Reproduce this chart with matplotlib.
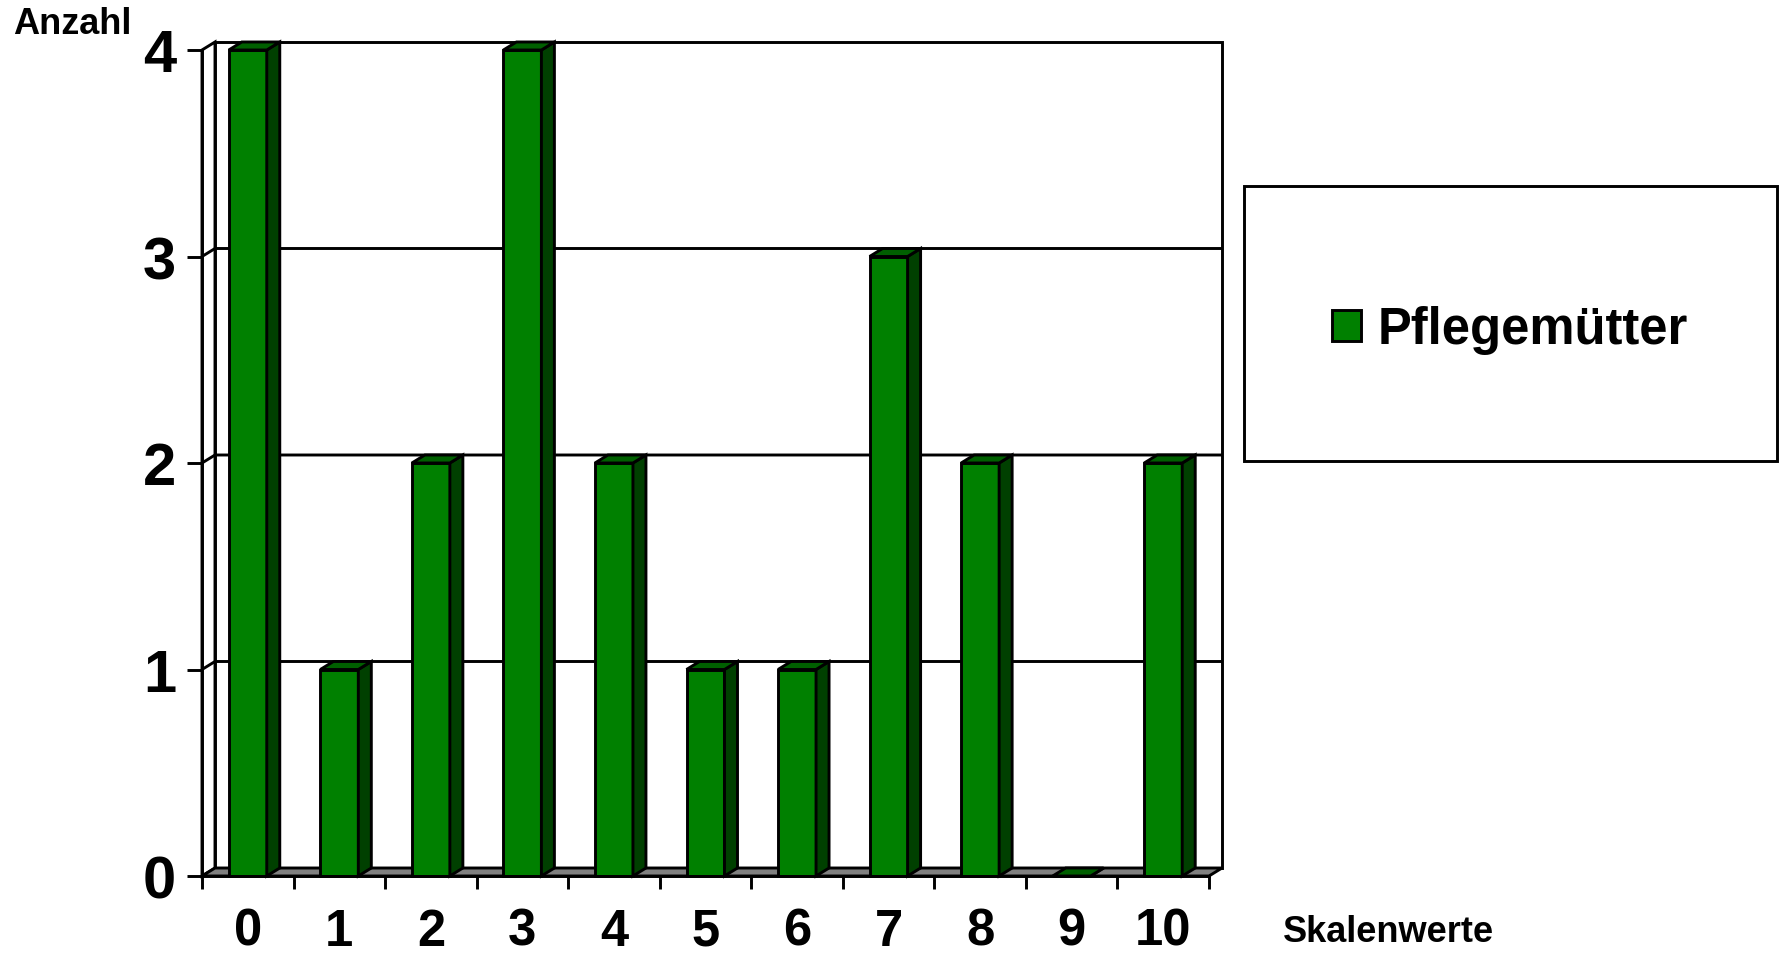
import matplotlib

matplotlib.use("Agg")

import matplotlib.pyplot as plt
from matplotlib.patches import Polygon, Rectangle
import numpy as np

plt.rcParams["font.family"] = ["Liberation Sans", "DejaVu Sans"]
plt.rcParams["font.weight"] = "bold"

categories = ["0", "1", "2", "3", "4", "5", "6", "7", "8", "9", "10"]
counts = [4, 1, 2, 4, 2, 1, 1, 3, 2, 0, 2]
y_ticks = [0, 1, 2, 3, 4]
series_name = "Pflegemütter"
y_title = "Anzahl"
x_title = "Skalenwerte"

FRONT = "#008000"
SIDE = "#004000"
TOP = "#006000"
FLOOR = "#808080"
LW = 2.1

W, H, DPI = 1781, 954, 100
fig = plt.figure(figsize=(W / DPI, H / DPI), dpi=DPI)
ax = fig.add_axes([202 / W, (H - 877) / H, 1007 / W, 826 / H])

n = len(categories)
ymax = max(y_ticks)
ax.set_xlim(0, n)
ax.set_ylim(0, ymax)

# pseudo-3d depth offsets in data units
dx = 13 / (1007 / n)
dy = 8 / (826 / ymax)

# side wall (left) and back wall
ax.add_patch(Polygon([(0, 0), (dx, dy), (dx, ymax + dy), (0, ymax)], closed=True,
                     facecolor="white", edgecolor="black", lw=LW, zorder=1, clip_on=False))
ax.add_patch(Polygon([(dx, dy), (n + dx, dy), (n + dx, ymax + dy), (dx, ymax + dy)], closed=True,
                     facecolor="white", edgecolor="black", lw=LW, zorder=1, clip_on=False))

# grid lines on back wall + side wall
for yv in y_ticks[1:-1]:
    ax.plot([0, dx, n + dx], [yv, yv + dy, yv + dy], color="black", lw=LW, zorder=2,
            clip_on=False, solid_capstyle="butt")

# floor slab
ax.add_patch(Polygon([(0, 0), (n, 0), (n + dx, dy), (dx, dy)], closed=True,
                     facecolor=FLOOR, edgecolor="black", lw=LW, zorder=3, clip_on=False))

# bars
width = 0.415
centers = np.arange(n) + 0.5
bars = ax.bar(centers, counts, width=width, color=FRONT, edgecolor="black", lw=LW,
              zorder=5, label=series_name, clip_on=False)
for c, v in zip(centers, counts):
    x0, x1 = c - width / 2, c + width / 2
    ax.add_patch(Polygon([(x1, 0), (x1 + dx, dy), (x1 + dx, v + dy), (x1, v)], closed=True,
                         facecolor=SIDE, edgecolor="black", lw=LW, zorder=5, clip_on=False))
    ax.add_patch(Polygon([(x0, v), (x1, v), (x1 + dx, v + dy), (x0 + dx, v + dy)], closed=True,
                         facecolor=TOP, edgecolor="black", lw=LW, zorder=5, clip_on=False))

# axes styling
for side in ("top", "right"):
    ax.spines[side].set_visible(False)
for side in ("left", "bottom"):
    ax.spines[side].set_linewidth(LW)
    ax.spines[side].set_zorder(6)
ax.patch.set_visible(False)

ax.set_yticks(y_ticks)
ax.set_yticklabels([str(t) for t in y_ticks], fontsize=43, fontweight="bold")
ax.tick_params(axis="y", length=10.8, width=LW, pad=8)

ax.set_xticks(np.arange(n + 1))
ax.set_xticklabels([])
ax.set_xticks(centers, minor=True)
ax.set_xticklabels(categories, minor=True, fontsize=36.5, fontweight="bold")
ax.tick_params(axis="x", which="major", length=9.4, width=LW)
ax.tick_params(axis="x", which="minor", length=0, pad=22)

fig.text(13 / W, (H - 34) / H, y_title, fontsize=26, fontweight="bold", va="baseline", ha="left")
fig.text(1283 / W, (H - 942) / H, x_title, fontsize=26, fontweight="bold", va="baseline", ha="left")

# legend box
bx0, by0, bx1, by1 = 1244, 187, 1777, 462
fig.patches.append(Rectangle((bx0 / W, (H - by1) / H), (bx1 - bx0) / W, (by1 - by0) / H,
                             transform=fig.transFigure, facecolor="white", edgecolor="black",
                             lw=LW, zorder=0))
leg = fig.legend(handles=[bars], labels=[series_name], loc="center",
                 bbox_to_anchor=((bx0 + bx1) / 2 / W, (H - (by0 + by1) / 2 - 6) / H),
                 frameon=False, handlelength=0.56, handleheight=0.56,
                 handletextpad=0.34, prop={"weight": "bold", "size": 36.5})

fig.savefig("out.png", dpi=DPI)
